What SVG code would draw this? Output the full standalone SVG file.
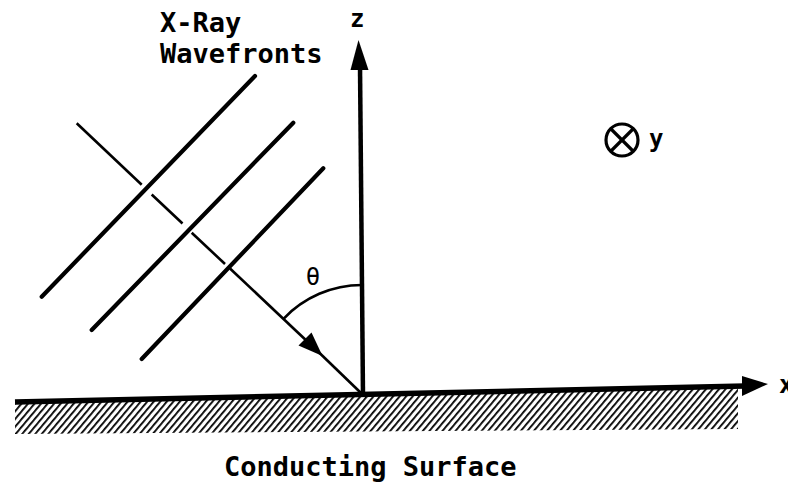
<svg xmlns="http://www.w3.org/2000/svg" width="788" height="487" viewBox="0 0 788 487">
  <style>
    .lbl { font-family: "DejaVu Sans Mono", "Liberation Mono", monospace; fill: #000; font-weight: bold; }
    .sym { font-family: "DejaVu Sans Mono", "Liberation Mono", monospace; fill: #000; }
    .wf { stroke: #000; stroke-width: 4.2; stroke-linecap: round; fill: none; }
    .ray { stroke: #000; stroke-width: 2.6; stroke-linecap: butt; fill: none; }
    .axis { stroke: #000; fill: none; }
  </style>
  <defs>
    <pattern id="hatch" patternUnits="userSpaceOnUse" width="5" height="5" patternTransform="rotate(-50)">
      <rect x="0" y="0" width="5" height="1.8" fill="#000"/>
    </pattern>
    <clipPath id="surfClip">
      <polygon points="15,404 738,388 738,429 15,434"/>
    </clipPath>
  </defs>
  <rect width="788" height="487" fill="#fff"/>

  <g id="surface">
    <rect x="0" y="370" width="788" height="80" fill="url(#hatch)" clip-path="url(#surfClip)"/>
  </g>

  <g id="wavefronts">
    <line class="wf" x1="41.7" y1="296.7" x2="255" y2="76"/>
    <line class="wf" x1="91.7" y1="330" x2="293.3" y2="122.7"/>
    <line class="wf" x1="141.7" y1="359" x2="323.3" y2="168.3"/>
  </g>

  <g id="connectors">
    <!-- x axis -->
    <line class="axis" x1="15" y1="402" x2="745" y2="386" stroke-width="5.5"/>
    <polygon points="742,376 768,384 742,396" fill="#000"/>
    <!-- z axis -->
    <line class="axis" x1="363" y1="396" x2="360" y2="66" stroke-width="4.5"/>
    <polygon points="358.5,40 350.5,70 368.5,70" fill="#000"/>
    <!-- incident ray (normal to wavefronts) -->
    <line class="ray" x1="76.7" y1="123.3" x2="141.7" y2="184.7"/>
    <line class="ray" x1="151.7" y1="194.5" x2="182.5" y2="223.5"/>
    <line class="ray" x1="191.7" y1="232.8" x2="225" y2="264"/>
    <line class="ray" x1="230" y1="268.5" x2="310" y2="344" stroke-width="4"/>
    <line class="ray" x1="318" y1="351.5" x2="361" y2="393"/>
    <polygon points="322.5,356 298.5,345.5 311.5,332.5" fill="#000"/>
    <!-- theta arc -->
    <path d="M 283.5 318.8 A 108 108 0 0 1 362 285" fill="none" stroke="#000" stroke-width="2.6"/>
  </g>

  <g id="y-axis-symbol">
    <circle cx="622" cy="140" r="16" fill="none" stroke="#000" stroke-width="3.2"/>
    <line x1="611" y1="129" x2="633" y2="151" stroke="#000" stroke-width="3.2"/>
    <line x1="633" y1="129" x2="611" y2="151" stroke="#000" stroke-width="3.2"/>
  </g>

  <g id="labels">
    <text class="lbl" x="160" y="32" font-size="27">X-Ray</text>
    <text class="lbl" x="160" y="63" font-size="27">Wavefronts</text>
    <text class="lbl" x="350" y="27" font-size="24">z</text>
    <text class="lbl" x="649" y="147" font-size="24">y</text>
    <text class="lbl" x="779" y="393" font-size="24">x</text>
    <text class="sym" x="313" y="285" font-size="24" text-anchor="middle">θ</text>
    <text class="lbl" x="224" y="476" font-size="27">Conducting Surface</text>
  </g>
</svg>
